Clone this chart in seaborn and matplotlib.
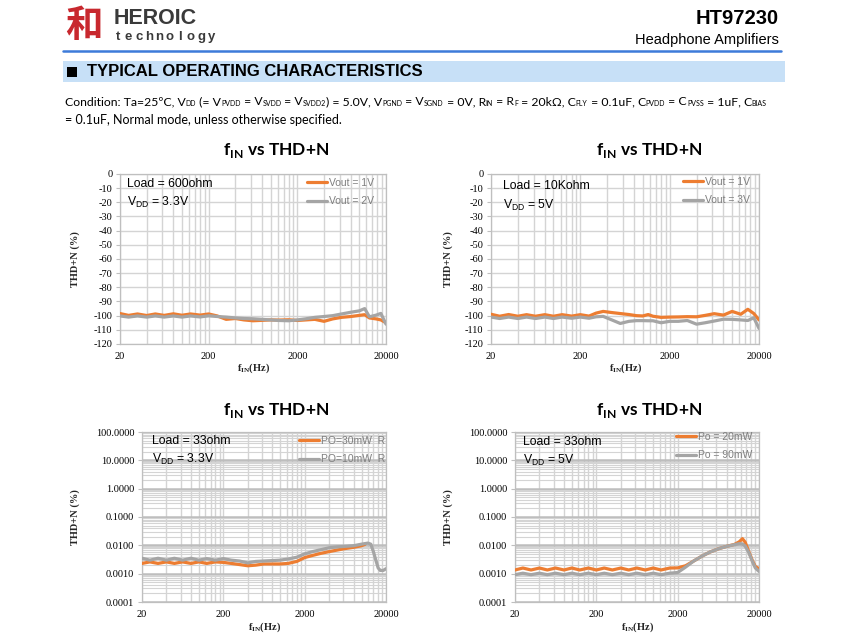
import numpy as np
import pandas as pd
import matplotlib
matplotlib.use("Agg")
import matplotlib.pyplot as plt
import seaborn as sns
from matplotlib.ticker import FixedLocator, FixedFormatter, NullFormatter
from matplotlib.patches import Rectangle
from matplotlib.lines import Line2D

# ---------------- data ----------------
c1_freq = [20, 25, 31.5, 40, 50, 63, 80, 100, 125, 160, 200, 250, 315, 400, 500, 630, 800, 1000,
           1250, 1600, 2000, 2500, 3150, 4000, 5000, 6300, 8000, 10000, 11500, 13000, 15500, 17500, 20000]
c1_vout1 = [-98.5, -99.8, -98.8, -99.9, -98.8, -99.8, -98.7, -99.7, -98.8, -99.6, -98.8, -100.2, -102.6,
            -102.0, -103.0, -103.6, -103.3, -103.0, -103.1, -102.9, -103.4, -103.0, -102.6, -104.0, -102.3,
            -101.2, -100.6, -99.8, -99.3, -101.6, -102.3, -103.0, -105.0]
c1_vout2 = [-100.2, -101.0, -100.2, -101.0, -100.2, -101.0, -100.2, -101.0, -100.2, -100.9, -100.1, -100.6,
            -101.0, -101.6, -102.0, -102.2, -102.6, -103.0, -103.4, -103.6, -103.0, -102.2, -101.2, -100.6,
            -100.0, -98.8, -97.6, -96.6, -95.0, -100.8, -99.6, -98.4, -106.0]

c2_freq = [20, 25, 31.5, 40, 50, 63, 80, 100, 125, 160, 200, 250, 300, 360, 450, 560, 700, 850, 1000,
           1150, 1300, 1600, 2000, 2500, 3150, 4000, 5000, 6300, 8000, 10000, 12500, 15000, 17500, 20000]
c2_vout1 = [-99.0, -100.4, -99.2, -100.4, -99.3, -100.4, -99.3, -100.4, -99.3, -100.3, -99.3, -100.3, -98.2,
            -97.0, -97.8, -98.5, -99.2, -100.0, -100.2, -99.2, -100.4, -101.2, -101.0, -100.9, -100.7,
            -100.8, -99.8, -98.6, -99.6, -97.0, -99.0, -95.5, -98.5, -103.0]
c2_vout3 = [-101.0, -102.0, -101.0, -102.0, -101.0, -102.0, -101.0, -102.0, -101.0, -101.8, -101.0, -101.8,
            -100.8, -100.5, -103.0, -105.5, -104.0, -103.5, -103.5, -103.6, -103.6, -105.0, -104.0, -104.0,
            -103.4, -106.0, -105.0, -103.8, -102.5, -102.6, -103.0, -103.4, -101.5, -109.0]

c3_freq_30 = [20, 25, 31.5, 40, 50, 63, 80, 100, 125, 160, 200, 250, 315, 400, 500, 630, 800, 1000,
              1250, 1600, 2000, 2500, 3150, 4000, 5000, 6300, 8000, 10000, 11000]
c3_po30 = [0.0023, 0.0026, 0.0023, 0.0026, 0.0023, 0.0026, 0.0023, 0.0026, 0.0023, 0.0026, 0.0025, 0.0023,
           0.0021, 0.0019, 0.0020, 0.0022, 0.0022, 0.0022, 0.0023, 0.0027, 0.0037, 0.0044, 0.0052, 0.0060,
           0.0068, 0.0077, 0.0085, 0.0097, 0.0108]
c3_freq_10 = [20, 25, 31.5, 40, 50, 63, 80, 100, 125, 160, 200, 250, 315, 400, 500, 630, 800, 1000,
              1250, 1600, 2000, 2500, 3150, 4000, 5000, 6300, 8000, 10000, 12000, 13000, 14000, 15000,
              16000, 17000, 18500, 20000]
c3_po10 = [0.0035, 0.0030, 0.0035, 0.0030, 0.0035, 0.0030, 0.0035, 0.0030, 0.0034, 0.0030, 0.0034, 0.0030,
           0.0028, 0.0024, 0.0027, 0.0028, 0.0029, 0.0030, 0.0033, 0.0038, 0.0050, 0.0060, 0.0070, 0.0082,
           0.0088, 0.0092, 0.0097, 0.0110, 0.0120, 0.0110, 0.0060, 0.0030, 0.0016, 0.0013, 0.0013, 0.0015]

c4_freq = [20, 25, 31.5, 40, 50, 63, 80, 100, 125, 160, 200, 250, 315, 400, 500, 630, 800, 1000, 1250,
           1600, 2000, 2500, 3150, 4000, 5000, 6300, 8000, 10000, 11500, 12500, 13500, 15000, 16500,
           18000, 20000]
c4_po20 = [0.00135, 0.00158, 0.00135, 0.00158, 0.00135, 0.00158, 0.00135, 0.00158, 0.00135, 0.00158,
           0.00135, 0.00158, 0.00135, 0.00158, 0.00135, 0.00158, 0.00135, 0.00158, 0.00135, 0.00158,
           0.0016, 0.0019, 0.0028, 0.0042, 0.0058, 0.0075, 0.0092, 0.0108, 0.0135, 0.0172, 0.0130,
           0.0060, 0.0030, 0.0018, 0.0015]
c4_po90 = [0.00092, 0.00104, 0.00092, 0.00104, 0.00092, 0.00104, 0.00092, 0.00104, 0.00092, 0.00104,
           0.00092, 0.00104, 0.00092, 0.00104, 0.00092, 0.00104, 0.00092, 0.00104, 0.00092, 0.00104,
           0.0011, 0.0017, 0.0028, 0.0042, 0.0058, 0.0075, 0.0092, 0.0106, 0.0115, 0.0112, 0.0095,
           0.0055, 0.0028, 0.0016, 0.0012]

x_major = [20, 200, 2000, 20000]
x_major_labels = ["20", "200", "2000", "20000"]
db_ticks = [-120, -110, -100, -90, -80, -70, -60, -50, -40, -30, -20, -10, 0]
pct_ticks = [0.0001, 0.001, 0.01, 0.1, 1, 10, 100]
pct_labels = ["0.0001", "0.0010", "0.0100", "0.1000", "1.0000", "10.0000", "100.0000"]

# ---------------- style ----------------
sns.set_theme(style="white")
plt.rcParams["font.family"] = ["Liberation Sans", "DejaVu Sans"]
plt.rcParams["axes.unicode_minus"] = False

W, H = 850, 642
fig = plt.figure(figsize=(8.5, 6.42), dpi=100)
fig.patch.set_facecolor("white")
renderer = fig.canvas.get_renderer()

ORANGE = "#ED7D31"
GRAY = "#A5A5A5"
GRID = "#D4D4D4"
SERIF = "Liberation Serif"
CAL = ["Lato", "DejaVu Sans"]


def P(x, y):
    return (x / W, 1 - y / H)


def rect(x0, y0, x1, y1):
    return [x0 / W, 1 - y1 / H, (x1 - x0) / W, (y1 - y0) / H]


def rich(x, y, parts, size=9.0, subsize=6.0, family=CAL):
    """Draw a line of text with small subscripts, piece by piece (x,y in pixels, baseline)."""
    cx = x
    for txt, is_sub in parts:
        fs = subsize if is_sub else size
        dy = 1.0 if is_sub else 0.0
        t = fig.text(*P(cx, y + dy), txt, fontsize=fs, family=family, color="black",
                     ha="left", va="baseline")
        bb = t.get_window_extent(renderer=renderer)
        cx += bb.width


# ---------------- header ----------------
fig.text(*P(84, 25), "和", fontsize=27, color="#C8282E", fontweight="bold",
         family=["Noto Sans CJK SC", "DejaVu Sans"], ha="center", va="center")
fig.text(*P(114, 19), "HEROIC", fontsize=15.5, fontweight="bold", color="#3A3A3A", ha="left", va="center")
for i, ch in enumerate("technology"):
    fig.text(*P(118 + i * 10.4, 37), ch, fontsize=9.5, fontweight="bold", color="#3A3A3A",
             ha="center", va="center")
fig.text(*P(779, 19), "HT97230", fontsize=14.5, fontweight="bold", color="black", ha="right", va="center")
fig.text(*P(779, 40), "Headphone Amplifiers", fontsize=10.5, color="black", ha="right", va="center")
fig.add_artist(Line2D([63 / W, 781 / W], [1 - 51 / H, 1 - 51 / H], color="#3D7BD9", lw=1.8,
                      transform=fig.transFigure))
fig.add_artist(Rectangle(P(63, 82), 722 / W, 21 / H, facecolor="#C7E0F7", edgecolor="none",
                         transform=fig.transFigure))
fig.add_artist(Rectangle(P(67, 77), 10 / W, 10 / H, facecolor="black", edgecolor="none",
                         transform=fig.transFigure))
fig.text(*P(87, 72), "TYPICAL OPERATING CHARACTERISTICS", fontsize=12, fontweight="bold",
         color="black", ha="left", va="center")

cond1_parts = [("Condition: Ta=25ºC, V", False), ("DD", True), (" (= V", False), ("PVDD", True),
               (" = V", False), ("SVDD", True), (" = V", False), ("SVDD2", True), (") = 5.0V, V", False),
               ("PGND", True), (" = V", False), ("SGND", True), (" = 0V, R", False), ("IN", True),
               (" = R", False), ("F", True), (" = 20kΩ, C", False), ("FLY", True), (" = 0.1uF, C", False),
               ("PVDD", True), (" = C", False), ("PVSS", True), (" = 1uF, C", False), ("BIAS", True)]
cond2_parts = [("= 0.1uF, Normal mode, unless otherwise specified.", False)]
rich(65, 105, cond1_parts, size=8.85, subsize=5.0)
rich(65, 124, cond2_parts, size=9.0, subsize=5.0)

# ---------------- charts ----------------
charts = [
    dict(box=(120, 174, 386, 344), logy=False,
         series=[(c1_freq, c1_vout1, "Vout = 1V"), (c1_freq, c1_vout2, "Vout = 2V")],
         title=(276, 150), load=("Load = 600ohm", "3.3V", 127, 184, 202),
         leg=(374, 178), ylab=75, xlab=368),
    dict(box=(491, 174, 759, 344), logy=False,
         series=[(c2_freq, c2_vout1, "Vout = 1V"), (c2_freq, c2_vout3, "Vout = 3V")],
         title=(649, 150), load=("Load = 10Kohm", "5V", 503, 186, 205),
         leg=(750, 177), ylab=448, xlab=368),
    dict(box=(142, 432, 386, 602), logy=True,
         series=[(c3_freq_30, c3_po30, "PO=30mW  R"), (c3_freq_10, c3_po10, "PO=10mW  R")],
         title=(276, 410), load=("Load = 33ohm", "3.3V", 152, 441, 459),
         leg=(385, 436), ylab=75, xlab=627),
    dict(box=(515, 432, 759, 602), logy=True,
         series=[(c4_freq, c4_po20, "Po = 20mW"), (c4_freq, c4_po90, "Po = 90mW")],
         title=(649, 410), load=("Load = 33ohm", "5V", 523, 442, 460),
         leg=(752, 432), ylab=448, xlab=627),
]

x_minor = [20 * k * 10 ** n for n in range(3) for k in range(2, 10)]

for c in charts:
    x0, y0, x1, y1 = c["box"]
    ax = fig.add_axes(rect(x0, y0, x1, y1))
    ax.set_facecolor("white")
    ax.set_xscale("log")
    if c["logy"]:
        ax.set_yscale("log")
    frames = [pd.DataFrame({"f": f, "v": v, "s": lab}) for f, v, lab in c["series"]]
    df = pd.concat(frames, ignore_index=True)
    sns.lineplot(data=df, x="f", y="v", hue="s", palette=[ORANGE, GRAY], linewidth=2.3,
                 estimator=None, sort=False, ax=ax, zorder=3)
    ax.set_xlim(20, 20000)
    ax.xaxis.set_major_locator(FixedLocator(x_major))
    ax.xaxis.set_major_formatter(FixedFormatter(x_major_labels))
    ax.xaxis.set_minor_locator(FixedLocator(x_minor))
    ax.xaxis.set_minor_formatter(NullFormatter())
    if c["logy"]:
        ax.set_ylim(0.0001, 100)
        ax.yaxis.set_major_locator(FixedLocator(pct_ticks))
        ax.yaxis.set_major_formatter(FixedFormatter(pct_labels))
        y_minor = [k * 10.0 ** n for n in range(-4, 2) for k in range(2, 10)]
        ax.yaxis.set_minor_locator(FixedLocator(y_minor))
        ax.yaxis.set_minor_formatter(NullFormatter())
        ax.grid(True, which="major", axis="y", color="#BDBDBD", lw=1.8, zorder=0)
        ax.grid(True, which="minor", axis="y", color=GRID, lw=0.8, zorder=0)
    else:
        ax.set_ylim(-120, 0)
        ax.yaxis.set_major_locator(FixedLocator(db_ticks))
        ax.grid(True, which="major", axis="y", color=GRID, lw=1.0, zorder=0)
    ax.grid(True, which="both", axis="x", color=GRID, lw=1.0, zorder=0)
    ax.set_axisbelow(True)
    for s in ax.spines.values():
        s.set_color("#BFBFBF")
        s.set_linewidth(0.9)
    ax.tick_params(axis="y", which="major", length=3, width=0.8, color="#BFBFBF", pad=2.5,
                   labelsize=7.5, labelfontfamily=SERIF, labelcolor="black", left=True)
    ax.tick_params(axis="y", which="minor", length=0)
    ax.tick_params(axis="x", which="both", length=0, pad=6, labelsize=7.5,
                   labelfontfamily=SERIF, labelcolor="black")
    ax.set_xlabel("")
    ax.set_ylabel("")

    handles, labels = ax.get_legend_handles_labels()
    lx, ly = c["leg"]
    ax.legend(handles, labels, loc="upper right",
              bbox_to_anchor=((lx - x0) / (x1 - x0), 1 - (ly - y0) / (y1 - y0)),
              frameon=False, fontsize=7.5, handlelength=1.9, handletextpad=0.2,
              labelspacing=0.8, borderpad=0, borderaxespad=0, labelcolor="#7F7F7F")

    tx, ty = c["title"]
    fig.text(*P(tx, ty), r"f$_{\mathregular{IN}}$ vs THD+N", fontsize=12.5, fontweight="bold",
             family=CAL, ha="center", va="center", color="black")
    load, vdd, lxp, ly1, ly2 = c["load"]
    fig.text(*P(lxp, ly1), load, fontsize=8.8, ha="left", va="center", color="black")
    fig.text(*P(lxp, ly2), r"V$_{\mathregular{DD}}$ = " + vdd, fontsize=8.8, ha="left",
             va="center", color="black")
    fig.text(*P(c["ylab"], (y0 + y1) / 2), "THD+N (%)", rotation=90, fontsize=7.5,
             fontweight="bold", family=SERIF, ha="center", va="center")
    fig.text(*P((x0 + x1) / 2 + 1, c["xlab"]), r"f$_{\mathregular{IN}}$(Hz)", fontsize=7.5,
             fontweight="bold", family=SERIF, ha="center", va="center")

fig.savefig("out.png", dpi=100, facecolor="white")
